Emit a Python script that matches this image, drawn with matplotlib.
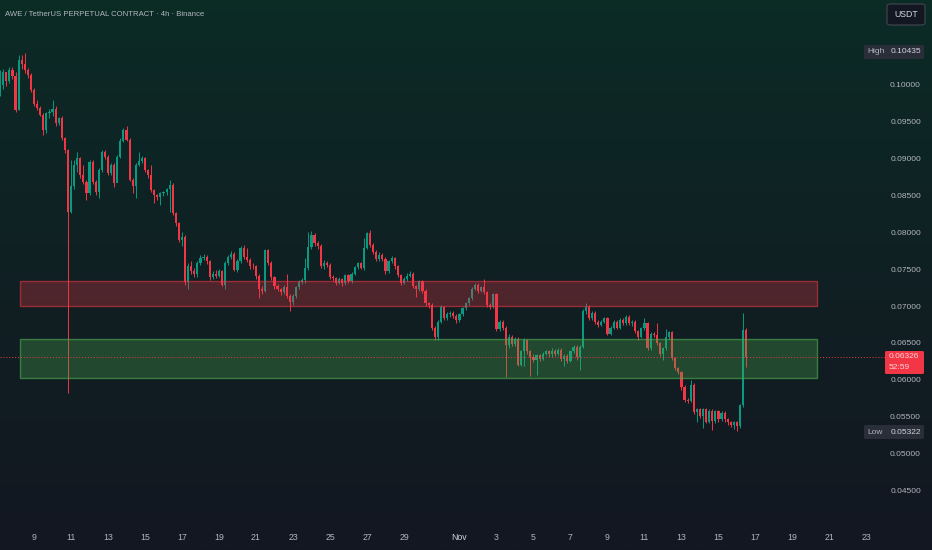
import numpy as np
import matplotlib
matplotlib.use("Agg")
import matplotlib.pyplot as plt
import matplotlib.transforms as mtransforms
from matplotlib.patches import Rectangle, FancyBboxPatch
from datetime import datetime, timedelta

# ---- data: AWE/USDT 4h candles (open = previous close)
first_open = 0.0990
closes = [
    0.1000, 0.1018, 0.1005, 0.1020, 0.1012, 0.0966, 0.1034, 0.1028, 0.1020, 0.1014,
    0.0993, 0.0975, 0.0969, 0.0960, 0.0939, 0.0962, 0.0964, 0.0968, 0.0948, 0.0955,
    0.0928, 0.0912, 0.0829, 0.0863, 0.0892, 0.0901, 0.0878, 0.0869, 0.0854, 0.0896,
    0.0869, 0.0856, 0.0885, 0.0910, 0.0903, 0.0881, 0.0892, 0.0867, 0.0903, 0.0925,
    0.0939, 0.0926, 0.0872, 0.0863, 0.0892, 0.0897, 0.0901, 0.0885, 0.0878, 0.0858,
    0.0851, 0.0849, 0.0854, 0.0856, 0.0859, 0.0865, 0.0827, 0.0813, 0.0791, 0.0795,
    0.0734, 0.0755, 0.0748, 0.0745, 0.0760, 0.0766, 0.0768, 0.0762, 0.0740, 0.0745,
    0.0742, 0.0748, 0.0730, 0.0760, 0.0768, 0.0772, 0.0750, 0.0762, 0.0780, 0.0768,
    0.0764, 0.0756, 0.0755, 0.0742, 0.0725, 0.0722, 0.0777, 0.0760, 0.0740, 0.0728,
    0.0724, 0.0720, 0.0727, 0.0715, 0.0707, 0.0715, 0.0727, 0.0734, 0.0736, 0.0753,
    0.0781, 0.0797, 0.0786, 0.0783, 0.0756, 0.0760, 0.0757, 0.0741, 0.0739, 0.0733,
    0.0738, 0.0732, 0.0743, 0.0735, 0.0745, 0.0754, 0.0759, 0.0753, 0.0780, 0.0800,
    0.0784, 0.0775, 0.0765, 0.0770, 0.0765, 0.0748, 0.0762, 0.0766, 0.0755, 0.0743,
    0.0733, 0.0738, 0.0742, 0.0745, 0.0728, 0.0725, 0.0735, 0.0722, 0.0705, 0.0703,
    0.0672, 0.0660, 0.0680, 0.0700, 0.0685, 0.0690, 0.0692, 0.0688, 0.0682, 0.0690,
    0.0698, 0.0705, 0.0712, 0.0725, 0.0730, 0.0722, 0.0727, 0.0720, 0.0703, 0.0700,
    0.0717, 0.0670, 0.0680, 0.0672, 0.0648, 0.0660, 0.0650, 0.0657, 0.0622, 0.0640,
    0.0655, 0.0640, 0.0633, 0.0628, 0.0635, 0.0630, 0.0637, 0.0640, 0.0636, 0.0641,
    0.0637, 0.0642, 0.0630, 0.0634, 0.0627, 0.0640, 0.0646, 0.0632, 0.0646, 0.0694,
    0.0700, 0.0685, 0.0692, 0.0680, 0.0676, 0.0680, 0.0685, 0.0664, 0.0672, 0.0680,
    0.0672, 0.0683, 0.0678, 0.0687, 0.0678, 0.0680, 0.0667, 0.0660, 0.0671, 0.0678,
    0.0644, 0.0664, 0.0662, 0.0651, 0.0637, 0.0644, 0.0660, 0.0666, 0.0631, 0.0617,
    0.0612, 0.0592, 0.0574, 0.0573, 0.0595, 0.0558, 0.0562, 0.0553, 0.0562, 0.0545,
    0.0560, 0.0546, 0.0559, 0.0548, 0.0557, 0.0548, 0.0544, 0.0541, 0.0544, 0.0539,
    0.0567, 0.0669, 0.06326,
]
highs = [
    0.1020, 0.1022, 0.1018, 0.1025, 0.1024, 0.1018, 0.1040, 0.1040, 0.10435, 0.1023,
    0.1016, 0.0996, 0.0980, 0.0971, 0.0962, 0.0964, 0.0968, 0.0980, 0.0972, 0.0957,
    0.0958, 0.0930, 0.0914, 0.0899, 0.0899, 0.0910, 0.0903, 0.0892, 0.0871, 0.0898,
    0.0898, 0.0872, 0.0888, 0.0912, 0.0912, 0.0905, 0.0895, 0.0894, 0.0905, 0.0928,
    0.0942, 0.0945, 0.0928, 0.0874, 0.0895, 0.0910, 0.0904, 0.0903, 0.0887, 0.0892,
    0.0860, 0.0853, 0.0856, 0.0857, 0.0861, 0.0872, 0.0867, 0.0829, 0.0815, 0.0802,
    0.0797, 0.0760, 0.0762, 0.0753, 0.0762, 0.0770, 0.0772, 0.0770, 0.0764, 0.0748,
    0.0750, 0.0751, 0.0750, 0.0762, 0.0770, 0.0776, 0.0775, 0.0765, 0.0782, 0.0784,
    0.0780, 0.0766, 0.0759, 0.0757, 0.0745, 0.0728, 0.0779, 0.0779, 0.0762, 0.0742,
    0.0731, 0.0726, 0.0730, 0.0745, 0.0717, 0.0718, 0.0729, 0.0736, 0.0739, 0.0766,
    0.0802, 0.0803, 0.0800, 0.0789, 0.0785, 0.0763, 0.0762, 0.0759, 0.0743, 0.0741,
    0.0740, 0.0739, 0.0745, 0.0745, 0.0747, 0.0756, 0.0761, 0.0761, 0.0793, 0.0802,
    0.0804, 0.0787, 0.0777, 0.0774, 0.0773, 0.0767, 0.0764, 0.0769, 0.0768, 0.0757,
    0.0745, 0.0740, 0.0746, 0.0748, 0.0747, 0.0730, 0.0737, 0.0737, 0.0724, 0.0707,
    0.0705, 0.0674, 0.0682, 0.0703, 0.0702, 0.0693, 0.0695, 0.0694, 0.0690, 0.0692,
    0.0700, 0.0707, 0.0714, 0.0727, 0.0733, 0.0732, 0.0729, 0.0738, 0.0722, 0.0706,
    0.0719, 0.0719, 0.0683, 0.0682, 0.0674, 0.0663, 0.0662, 0.0659, 0.0659, 0.0642,
    0.0658, 0.0657, 0.0642, 0.0636, 0.0637, 0.0637, 0.0639, 0.0642, 0.0642, 0.0644,
    0.0643, 0.0645, 0.0644, 0.0637, 0.0636, 0.0642, 0.0648, 0.0648, 0.0648, 0.0697,
    0.0705, 0.0703, 0.0695, 0.0694, 0.0682, 0.0682, 0.0687, 0.0687, 0.0675, 0.0683,
    0.0682, 0.0685, 0.0685, 0.0689, 0.0689, 0.0682, 0.0682, 0.0669, 0.0673, 0.0685,
    0.0680, 0.0666, 0.0666, 0.0678, 0.0653, 0.0646, 0.0670, 0.0668, 0.0668, 0.0633,
    0.0619, 0.0614, 0.0594, 0.0577, 0.0601, 0.0597, 0.0564, 0.0564, 0.0564, 0.0564,
    0.0562, 0.0562, 0.0561, 0.0561, 0.0560, 0.0559, 0.0550, 0.0546, 0.0546, 0.0546,
    0.0569, 0.0692, 0.0672,
]
lows = [
    0.0985, 0.0995, 0.0998, 0.1003, 0.1008, 0.0964, 0.0966, 0.1022, 0.1016, 0.1010,
    0.0990, 0.0972, 0.0966, 0.0958, 0.0932, 0.0935, 0.0955, 0.0958, 0.0945, 0.0946,
    0.0926, 0.0908, 0.0584, 0.0827, 0.0860, 0.0883, 0.0875, 0.0866, 0.0845, 0.0852,
    0.0866, 0.0852, 0.0847, 0.0883, 0.0900, 0.0878, 0.0879, 0.0862, 0.0870, 0.0901,
    0.0923, 0.0924, 0.0870, 0.0854, 0.0847, 0.0890, 0.0895, 0.0883, 0.0875, 0.0855,
    0.0840, 0.0845, 0.0838, 0.0850, 0.0852, 0.0829, 0.0825, 0.0810, 0.0788, 0.0782,
    0.0730, 0.0724, 0.0745, 0.0741, 0.0740, 0.0757, 0.0763, 0.0758, 0.0737, 0.0738,
    0.0739, 0.0740, 0.0728, 0.0725, 0.0757, 0.0765, 0.0748, 0.0747, 0.0760, 0.0765,
    0.0761, 0.0752, 0.0751, 0.0738, 0.0712, 0.0718, 0.0720, 0.0757, 0.0736, 0.0725,
    0.0721, 0.0716, 0.0718, 0.0712, 0.0694, 0.0703, 0.0712, 0.0725, 0.0731, 0.0733,
    0.0750, 0.0778, 0.0783, 0.0779, 0.0753, 0.0752, 0.0754, 0.0738, 0.0735, 0.0730,
    0.0731, 0.0729, 0.0730, 0.0732, 0.0733, 0.0743, 0.0752, 0.0751, 0.0750, 0.0778,
    0.0781, 0.0772, 0.0762, 0.0762, 0.0762, 0.0745, 0.0746, 0.0759, 0.0752, 0.0740,
    0.0730, 0.0731, 0.0735, 0.0740, 0.0726, 0.0714, 0.0722, 0.0719, 0.0702, 0.0699,
    0.0669, 0.0655, 0.0655, 0.0678, 0.0682, 0.0683, 0.0687, 0.0685, 0.0679, 0.0680,
    0.0688, 0.0696, 0.0703, 0.0710, 0.0723, 0.0719, 0.0720, 0.0717, 0.0700, 0.0697,
    0.0698, 0.0667, 0.0667, 0.0669, 0.0606, 0.0645, 0.0647, 0.0647, 0.0620, 0.0620,
    0.0620, 0.0637, 0.0607, 0.0625, 0.0608, 0.0627, 0.0628, 0.0635, 0.0633, 0.0633,
    0.0634, 0.0635, 0.0627, 0.0620, 0.0624, 0.0625, 0.0638, 0.0629, 0.0615, 0.0644,
    0.0690, 0.0682, 0.0683, 0.0677, 0.0673, 0.0674, 0.0678, 0.0662, 0.0662, 0.0670,
    0.0670, 0.0670, 0.0676, 0.0676, 0.0676, 0.0675, 0.0665, 0.0655, 0.0658, 0.0669,
    0.0642, 0.0642, 0.0659, 0.0648, 0.0634, 0.0628, 0.0642, 0.0657, 0.0629, 0.0615,
    0.0610, 0.0588, 0.0571, 0.0570, 0.0572, 0.0556, 0.0545, 0.0550, 0.0536, 0.0543,
    0.0543, 0.0534, 0.0543, 0.0545, 0.0546, 0.0545, 0.0541, 0.0538, 0.0535, 0.05322,
    0.0537, 0.0565, 0.0619,
]
first_candle = datetime(2025, 10, 7, 4)

# supply / demand zones (price bottom, price top)
red_zone = (0.0701, 0.0735)
green_zone = (0.0604, 0.0657)

price_ticks = [0.045, 0.050, 0.055, 0.060, 0.065, 0.070, 0.075, 0.080,
               0.085, 0.090, 0.095, 0.100]
date_labels = ["9", "11", "13", "15", "17", "19", "21", "23", "25", "27", "29",
               "Nov", "3", "5", "7", "9", "11", "13", "15", "17", "19", "21", "23"]
label_dates = [datetime(2025, 10, d) for d in range(9, 30, 2)] + \
              [datetime(2025, 11, d) for d in range(1, 24, 2)]

title = "AWE / TetherUS PERPETUAL CONTRACT · 4h · Binance"
high_val = "0.10435"
low_val = "0.05322"
last_price = 0.06326
countdown = "52:59"

UP = "#089981"
DOWN = "#f23645"
TXT = "#b2b5be"
FONT = "Liberation Sans"
FS = 6.0

W, H = 932, 550
fig = plt.figure(figsize=(W / 100, H / 100), dpi=100)
ax = fig.add_axes([0, 0, 1, 1])
ax.set_xlim(-0.032, 302.27)
ax.set_ylim(0.03716, 0.11149)
ax.axis("off")

# background gradient (teal top -> navy bottom)
top = np.array([11, 44, 38]) / 255
bot = np.array([19, 23, 33]) / 255
t = np.linspace(0, 1, 256) ** 0.8
grad = top[None, :] * (1 - t[:, None]) + bot[None, :] * t[:, None]
ax.imshow(grad[:, None, :], extent=[0, 1, 0, 1], transform=ax.transAxes,
          aspect="auto", zorder=0)

# candles
opens = [first_open] + closes[:-1]
idx = np.arange(len(closes))
cols = [UP if c >= o else DOWN for o, c in zip(opens, closes)]
ax.vlines(idx, lows, highs, colors=cols, linewidth=0.7, zorder=2)
bottoms = [min(o, c) for o, c in zip(opens, closes)]
heights = [max(abs(c - o), 0.00005) for o, c in zip(opens, closes)]
ax.bar(idx, heights, bottom=bottoms, width=0.7, color=cols, linewidth=0, zorder=3)

# zones drawn over the candles, semi transparent
zx0, zx1 = 6.45, 265.0
ax.add_patch(Rectangle((zx0, red_zone[0]), zx1 - zx0, red_zone[1] - red_zone[0],
                       facecolor=(0.95, 0.21, 0.27, 0.28), edgecolor=(0.95, 0.21, 0.27, 0.55),
                       linewidth=1.0, zorder=4))
ax.add_patch(Rectangle((zx0, green_zone[0]), zx1 - zx0, green_zone[1] - green_zone[0],
                       facecolor=(0.30, 0.69, 0.31, 0.30), edgecolor=(0.30, 0.69, 0.31, 0.60),
                       linewidth=1.0, zorder=4))

# last price dotted line
ax.plot([-0.03, 287], [last_price, last_price], color=DOWN, lw=0.7,
        linestyle=(0, (1, 2)), zorder=5)

def fx(p):
    return p / W

def fy(p):
    return 1 - p / H

# price scale labels
ytrans = mtransforms.blended_transform_factory(fig.transFigure, ax.transData)
for p in price_ticks:
    ax.text(fx(921), p, f"{p:.5f}", transform=ytrans,
            ha="right", va="center", color=TXT, fontsize=FS, family=FONT, zorder=6)

# date labels
xtrans = mtransforms.blended_transform_factory(ax.transData, fig.transFigure)
for lab, d in zip(date_labels, label_dates):
    pos = (d - first_candle) / timedelta(hours=4)
    ax.text(pos, fy(538), lab, transform=xtrans,
            ha="center", va="center", color=TXT if lab != "Nov" else "#d1d4dc",
            fontsize=FS + 0.3, family=FONT, zorder=6)

# title
fig.text(fx(5), fy(14), title, ha="left", va="center", color=TXT, fontsize=5.6, family=FONT)

# USDT box
fig.patches.append(FancyBboxPatch((fx(887), fy(25)), fx(38), 21 / H,
                                  boxstyle="round,pad=0,rounding_size=0.004",
                                  transform=fig.transFigure, facecolor="#131722",
                                  edgecolor="#434651", linewidth=0.8, zorder=7))
fig.text(fx(906), fy(14.5), "USDT", ha="center", va="center", color="#d1d4dc",
         fontsize=6.3, family=FONT, zorder=8)

# high / low labels
for yc, name, val in [(52, "High", high_val), (432, "Low", low_val)]:
    fig.patches.append(FancyBboxPatch((fx(864), fy(yc + 7)), fx(60), 14 / H,
                                      boxstyle="round,pad=0,rounding_size=0.002",
                                      transform=fig.transFigure, facecolor="#2a2e39",
                                      edgecolor="none", zorder=7))
    fig.text(fx(867), fy(yc), name, ha="left", va="center", color=TXT,
             fontsize=FS, family=FONT, zorder=8)
    fig.text(fx(921), fy(yc), val, ha="right", va="center", color="#d1d4dc",
             fontsize=FS, family=FONT, zorder=8)

# last price label
fig.patches.append(FancyBboxPatch((fx(885), fy(374)), fx(39), 23 / H,
                                  boxstyle="round,pad=0,rounding_size=0.002",
                                  transform=fig.transFigure, facecolor=DOWN,
                                  edgecolor="none", zorder=7))
fig.text(fx(889), fy(357), f"{last_price:.5f}", ha="left", va="center",
         color="#fbd5d8", fontsize=FS, family=FONT, zorder=8)
fig.text(fx(889), fy(367.5), countdown, ha="left", va="center",
         color="#fbd5d8", fontsize=FS, family=FONT, zorder=8)

fig.savefig("out.png", dpi=100)
